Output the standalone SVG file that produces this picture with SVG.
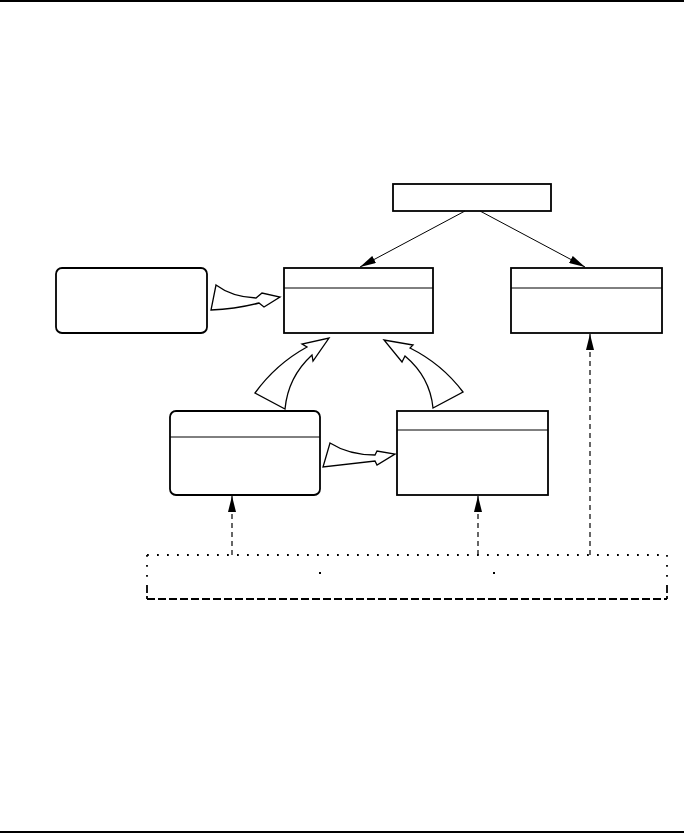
<svg xmlns="http://www.w3.org/2000/svg" width="684" height="833" viewBox="0 0 684 833">
<style>
.box{fill:#fff;stroke:#000;stroke-width:1.8}
.div{stroke:#000;stroke-width:1}
.blk{fill:#fff;stroke:#000;stroke-width:1.3;stroke-linejoin:miter}
.ln{stroke:#000;stroke-width:1;fill:none}
.dsh{stroke:#000;stroke-width:1.2;fill:none;stroke-dasharray:5 4}
</style>
<defs>
<marker id="ah" viewBox="0 0 16 8" refX="16" refY="4" markerWidth="16" markerHeight="8" markerUnits="userSpaceOnUse" orient="auto">
<path d="M0,0 L16,4 L0,8 Z" fill="#000"/>
</marker>
</defs>
<rect x="0" y="0" width="684" height="2" fill="#000"/>
<rect x="0" y="831" width="684" height="2" fill="#000"/>

<g id="top"><rect class="box" x="393" y="184" width="158" height="27"/></g>
<g id="left"><rect class="box" x="56" y="268" width="151" height="65" rx="6"/></g>
<g id="A"><rect class="box" x="284" y="268" width="149" height="65"/><line class="div" x1="284" y1="288" x2="433" y2="288"/></g>
<g id="B"><rect class="box" x="511" y="268" width="151" height="65"/><line class="div" x1="511" y1="288" x2="662" y2="288"/></g>
<g id="C"><rect class="box" x="170" y="411" width="150" height="84" rx="6"/><line class="div" x1="170" y1="437" x2="320" y2="437"/></g>
<g id="D"><rect class="box" x="397" y="411" width="151" height="84"/><line class="div" x1="397" y1="430" x2="548" y2="430"/></g>
<g id="bottom">
<line x1="147" y1="555" x2="667" y2="555" stroke="#000" stroke-width="1.8" stroke-dasharray="1.8 8.2"/>
<line x1="147" y1="599" x2="667" y2="599" stroke="#000" stroke-width="1.8" stroke-dasharray="8 3"/>
<line x1="147" y1="555" x2="147" y2="583" stroke="#000" stroke-width="1.8" stroke-dasharray="1.8 8.2"/>
<line x1="147" y1="585" x2="147" y2="599" stroke="#000" stroke-width="1.8" stroke-dasharray="8 3"/>
<line x1="667" y1="555" x2="667" y2="583" stroke="#000" stroke-width="1.8" stroke-dasharray="1.8 8.2"/>
<line x1="667" y1="585" x2="667" y2="599" stroke="#000" stroke-width="1.8" stroke-dasharray="8 3"/>
<rect x="319" y="572" width="2" height="2" fill="#000"/>
<rect x="493" y="572" width="2" height="2" fill="#000"/>
</g>

<g id="connectors">
<line class="ln" x1="465" y1="211" x2="360" y2="267" marker-end="url(#ah)"/>
<line class="ln" x1="480" y1="211" x2="585" y2="267" marker-end="url(#ah)"/>
<line class="dsh" x1="232" y1="555" x2="232" y2="496" marker-end="url(#ah)"/>
<line class="dsh" x1="478" y1="555" x2="478" y2="496" marker-end="url(#ah)"/>
<line class="dsh" x1="590" y1="555" x2="590" y2="334" marker-end="url(#ah)"/>
<path class="blk" d="M216,285 Q232,297 256,298 L262,293 L280,297 L264,307 L259,303 Q236,309 211,310 Z"/>
<path class="blk" d="M330,443 Q349,455 375,455 L377,451 L395,454 L377,465 L375,461 Q349,464 323,467 Z"/>
<path class="blk" d="M255,393 Q276,364 307,347 L302,344 L329,338 L313,361 L312,355 Q288,377 285,409 Z"/>
<path class="blk" d="M463,392 Q442,364 410,348 L413,345 L384,340 L402,362 L405,356 Q430,377 433,408 Z"/>
</g>
</svg>
